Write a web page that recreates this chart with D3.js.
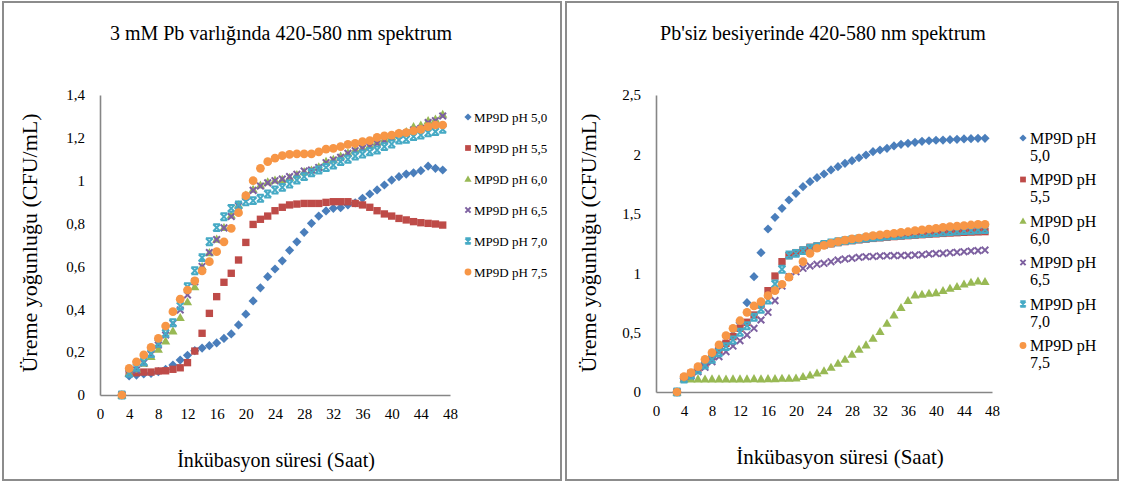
<!DOCTYPE html>
<html>
<head>
<meta charset="utf-8">
<script src="https://cdn.jsdelivr.net/npm/d3@7"></script>
<style>
  body { margin: 0; background: #fff; }
  svg { display: block; }
  text { font-family: "Liberation Serif", "Times New Roman", serif; fill: #000; }
</style>
</head>
<body>
<svg id="chart" width="1121" height="483"></svg>
<script>
// Sampling times (hours); the first reading at 3 h is the blank (0)
const hours = [3, 4, 5, 6, 7, 8, 9, 10, 11, 12, 13, 14, 15, 16, 17, 18, 19, 20, 21, 22, 23, 24, 25,
  26, 27, 28, 29, 30, 31, 32, 33, 34, 35, 36, 37, 38, 39, 40, 41, 42, 43, 44, 45, 46, 47];

const seriesNames = ["MP9D pH 5,0", "MP9D pH 5,5", "MP9D pH 6,0", "MP9D pH 6,5", "MP9D pH 7,0", "MP9D pH 7,5"];

// With 3 mM Pb
const pbPH50 = [0, 0.089, 0.093, 0.098, 0.101, 0.109, 0.12, 0.14, 0.163, 0.185, 0.207, 0.219, 0.23, 0.243, 0.264, 0.285,
  0.327, 0.377, 0.439, 0.5, 0.552, 0.588, 0.626, 0.675, 0.715, 0.759, 0.801, 0.835, 0.859, 0.871, 0.874, 0.887, 0.897,
  0.918, 0.938, 0.957, 0.98, 1.003, 1.019, 1.031, 1.037, 1.047, 1.068, 1.058, 1.05];
const pbPH55 = [0, 0.101, 0.104, 0.107, 0.107, 0.112, 0.113, 0.12, 0.127, 0.151, 0.205, 0.288, 0.381, 0.459, 0.526, 0.568,
  0.63, 0.712, 0.796, 0.82, 0.835, 0.86, 0.876, 0.887, 0.891, 0.894, 0.894, 0.894, 0.899, 0.902, 0.902, 0.902, 0.894,
  0.887, 0.876, 0.86, 0.845, 0.835, 0.824, 0.817, 0.809, 0.804, 0.801, 0.798, 0.793];
const pbPH60 = [0, 0.101, 0.12, 0.148, 0.179, 0.213, 0.252, 0.299, 0.361, 0.435, 0.505, 0.599, 0.664, 0.727, 0.781, 0.84,
  0.887, 0.933, 0.96, 0.98, 0.995, 1.003, 1.006, 1.015, 1.028, 1.042, 1.05, 1.065, 1.09, 1.1, 1.115, 1.13, 1.145,
  1.155, 1.165, 1.18, 1.195, 1.205, 1.222, 1.229, 1.252, 1.26, 1.28, 1.287, 1.31];
const pbPH65 = [0, 0.1, 0.116, 0.15, 0.19, 0.233, 0.28, 0.334, 0.397, 0.467, 0.529, 0.6, 0.665, 0.725, 0.78, 0.833,
  0.882, 0.925, 0.955, 0.975, 0.99, 1.0, 1.008, 1.019, 1.03, 1.045, 1.05, 1.062, 1.084, 1.097, 1.109, 1.128, 1.14,
  1.151, 1.159, 1.174, 1.187, 1.198, 1.213, 1.221, 1.237, 1.244, 1.271, 1.28, 1.302];
const pbPH70 = [0, 0.101, 0.129, 0.155, 0.194, 0.241, 0.288, 0.337, 0.415, 0.505, 0.58, 0.641, 0.715, 0.781, 0.832, 0.871,
  0.887, 0.902, 0.907, 0.918, 0.938, 0.957, 0.969, 0.985, 1.003, 1.019, 1.037, 1.05, 1.062, 1.073, 1.089, 1.1, 1.115,
  1.125, 1.135, 1.143, 1.159, 1.171, 1.19, 1.193, 1.206, 1.213, 1.224, 1.229, 1.24];
const pbPH75 = [0, 0.124, 0.155, 0.187, 0.222, 0.264, 0.322, 0.389, 0.447, 0.49, 0.533, 0.579, 0.622, 0.669, 0.715, 0.778,
  0.851, 0.93, 1.0, 1.058, 1.089, 1.105, 1.117, 1.123, 1.125, 1.125, 1.125, 1.135, 1.147, 1.151, 1.159, 1.17, 1.174,
  1.182, 1.187, 1.202, 1.209, 1.213, 1.221, 1.224, 1.233, 1.24, 1.252, 1.26, 1.26];

// Without Pb
const noPbPH50 = [0, 0.115, 0.157, 0.2, 0.247, 0.297, 0.368, 0.418, 0.48, 0.583, 0.752, 0.971, 1.173, 1.372, 1.47, 1.546,
  1.616, 1.672, 1.728, 1.77, 1.804, 1.835, 1.869, 1.897, 1.925, 1.947, 1.972, 1.995, 2.023, 2.037, 2.051, 2.071, 2.085,
  2.093, 2.102, 2.11, 2.115, 2.119, 2.121, 2.124, 2.127, 2.13, 2.132, 2.135, 2.135];
const noPbPH55 = [0, 0.12, 0.157, 0.2, 0.241, 0.297, 0.354, 0.41, 0.466, 0.536, 0.587, 0.648, 0.732, 0.853, 0.976, 1.097,
  1.148, 1.173, 1.195, 1.218, 1.229, 1.237, 1.248, 1.258, 1.266, 1.274, 1.281, 1.287, 1.293, 1.298, 1.303, 1.308, 1.312,
  1.316, 1.32, 1.324, 1.328, 1.331, 1.335, 1.338, 1.341, 1.344, 1.346, 1.348, 1.35];
const noPbPH60 = [0, 0.11, 0.108, 0.11, 0.108, 0.11, 0.11, 0.108, 0.11, 0.11, 0.11, 0.112, 0.11, 0.112, 0.112, 0.115,
  0.115, 0.118, 0.13, 0.143, 0.16, 0.178, 0.208, 0.241, 0.275, 0.317, 0.359, 0.396, 0.452, 0.508, 0.578, 0.648, 0.71,
  0.769, 0.817, 0.822, 0.83, 0.836, 0.853, 0.873, 0.887, 0.909, 0.923, 0.934, 0.93];
const noPbPH65 = [0, 0.11, 0.135, 0.171, 0.208, 0.255, 0.297, 0.339, 0.387, 0.432, 0.48, 0.536, 0.606, 0.671, 0.769, 0.892,
  0.971, 1.013, 1.041, 1.061, 1.075, 1.083, 1.097, 1.111, 1.12, 1.125, 1.134, 1.139, 1.141, 1.145, 1.146, 1.148, 1.149,
  1.15, 1.153, 1.156, 1.162, 1.165, 1.167, 1.173, 1.176, 1.181, 1.187, 1.19, 1.195];
const noPbPH70 = [0, 0.11, 0.143, 0.185, 0.227, 0.275, 0.331, 0.382, 0.438, 0.503, 0.558, 0.629, 0.696, 0.774, 0.909, 1.033,
  1.153, 1.167, 1.19, 1.21, 1.223, 1.243, 1.255, 1.265, 1.274, 1.282, 1.289, 1.296, 1.302, 1.307, 1.312, 1.317, 1.322,
  1.326, 1.33, 1.334, 1.338, 1.342, 1.346, 1.35, 1.354, 1.358, 1.362, 1.365, 1.368];
const noPbPH75 = [0, 0.129, 0.163, 0.213, 0.275, 0.331, 0.396, 0.474, 0.536, 0.6, 0.671, 0.724, 0.76, 0.811, 0.853, 0.907,
  0.966, 1.027, 1.097, 1.167, 1.21, 1.234, 1.251, 1.265, 1.279, 1.288, 1.296, 1.307, 1.316, 1.322, 1.33, 1.335, 1.343,
  1.349, 1.358, 1.364, 1.372, 1.378, 1.386, 1.392, 1.397, 1.4, 1.406, 1.411, 1.411];

// Axis ticks
const xTicks = [0, 4, 8, 12, 16, 20, 24, 28, 32, 36, 40, 44, 48];
const leftYTicks = [0, 0.2, 0.4, 0.6, 0.8, 1, 1.2, 1.4];
const rightYTicks = [0, 0.5, 1, 1.5, 2, 2.5];

const colors = ["#4A7EBB", "#BE4B48", "#98B954", "#7D60A0", "#46AAC5", "#F79646"];
const shapes = ["diamond", "square", "triangle", "cross", "star", "circle"];

const FONT = '"Liberation Serif","Times New Roman",serif';
const svg = d3.select("#chart");
const commaFmt = v => String(v).replace(".", ",");

function drawMarker(g, shape, color, s) {
  if (shape === "circle") {
    g.append("circle").attr("r", s * 0.95).attr("fill", color);
  } else if (shape === "diamond") {
    g.append("path").attr("d", `M0,${-s}L${s},0L0,${s}L${-s},0Z`).attr("fill", color);
  } else if (shape === "square") {
    const a = s * 0.8;
    g.append("path").attr("d", `M${-a},${-a}H${a}V${a}H${-a}Z`).attr("fill", color);
  } else if (shape === "triangle") {
    g.append("path").attr("d", `M0,${-s}L${s},${s * 0.75}L${-s},${s * 0.75}Z`).attr("fill", color);
  } else if (shape === "cross") {
    const a = s * 0.72;
    g.append("path").attr("d", `M${-a},${-a}L${a},${a}M${a},${-a}L${-a},${a}`)
      .attr("stroke", color).attr("stroke-width", 2).attr("fill", "none");
  } else if (shape === "star") {
    const a = s * 0.75;
    g.append("path").attr("d", `M${-a},${-a}L${a},${a}M${a},${-a}L${-a},${a}M${-a},${-a}H${a}M${-a},${a}H${a}`)
      .attr("stroke", color).attr("stroke-width", 2).attr("fill", "none");
  }
}

function panel(cfg) {
  const root = svg.append("g");
  root.append("rect")
    .attr("x", cfg.frame[0]).attr("y", cfg.frame[1])
    .attr("width", cfg.frame[2]).attr("height", cfg.frame[3])
    .attr("fill", "#fff").attr("stroke", "#8c8c8c").attr("stroke-width", 2);

  const x = d3.scaleLinear().domain([0, 48]).range(cfg.xRange);
  const y = d3.scaleLinear().domain(cfg.yDomain).range(cfg.yRange);

  // Axes: plain grey lines without tick marks
  const xAxis = root.append("g").attr("transform", `translate(0,${cfg.yRange[0]})`)
    .call(d3.axisBottom(x).tickValues(xTicks).tickSize(0).tickPadding(10).tickFormat(d => d));
  const yAxis = root.append("g").attr("transform", `translate(${cfg.xRange[0]},0)`)
    .call(d3.axisLeft(y).tickValues(cfg.yTicks).tickSize(0).tickPadding(15).tickFormat(commaFmt));
  [xAxis, yAxis].forEach(a => {
    a.attr("font-family", FONT);
    a.select(".domain").attr("stroke", "#868686").attr("stroke-width", 1.6);
    a.selectAll("text").style("font-family", FONT).style("font-size", "15px").attr("fill", "#000");
  });
  xAxis.selectAll("text").attr("dy", "0.95em");

  // Series, drawn in order so later series sit on top
  cfg.series.forEach((vals, i) => {
    const sg = root.append("g");
    vals.forEach((v, j) => {
      const m = sg.append("g").attr("transform", `translate(${x(hours[j])},${y(v)})`);
      drawMarker(m, shapes[i], colors[i], 4.6);
    });
  });

  // Titles
  root.append("text").attr("x", cfg.titleX).attr("y", 40).attr("text-anchor", "middle")
    .style("font-size", "20px").text(cfg.title);
  root.append("text").attr("x", cfg.xTitleX).attr("y", cfg.xTitleY).attr("text-anchor", "middle")
    .style("font-size", cfg.xTitleSize).text("İnkübasyon süresi (Saat)");
  root.append("text").attr("transform", `translate(${cfg.yTitleX},243) rotate(-90)`)
    .attr("text-anchor", "middle").style("font-size", "22px").text("Üreme yoğunluğu (CFU/mL)");

  // Legend
  const lg = root.append("g");
  seriesNames.forEach((name, i) => {
    const cy = cfg.legend.y0 + i * cfg.legend.step;
    const m = lg.append("g").attr("transform", `translate(${cfg.legend.mx},${cy})`);
    drawMarker(m, shapes[i], colors[i], 3.6);
    const t = lg.append("text").attr("x", cfg.legend.tx).attr("y", cy)
      .attr("dy", "0.35em").style("font-size", cfg.legend.size);
    if (cfg.legend.wrap) {
      const parts = name.split(" ");
      t.append("tspan").attr("x", cfg.legend.tx).text(parts.slice(0, 2).join(" "));
      t.append("tspan").attr("x", cfg.legend.tx).attr("dy", "1.08em").text(parts[2]);
    } else {
      t.text(name);
    }
  });
}

panel({
  frame: [3, 2, 558, 478],
  xRange: [100, 450], yDomain: [0, 1.4], yRange: [395, 95], yTicks: leftYTicks,
  series: [pbPH50, pbPH55, pbPH60, pbPH65, pbPH70, pbPH75],
  title: "3 mM Pb varlığında 420-580 nm spektrum", titleX: 281,
  xTitleX: 276, xTitleY: 467, xTitleSize: "20px", yTitleX: 37,
  legend: { mx: 468, tx: 474, y0: 117, step: 31, size: "13px", wrap: false }
});

panel({
  frame: [566, 2, 552, 478],
  xRange: [656, 992], yDomain: [0, 2.5], yRange: [392, 95], yTicks: rightYTicks,
  series: [noPbPH50, noPbPH55, noPbPH60, noPbPH65, noPbPH70, noPbPH75],
  title: "Pb'siz besiyerinde 420-580 nm spektrum", titleX: 823,
  xTitleX: 840, xTitleY: 464, xTitleSize: "21px", yTitleX: 596,
  legend: { mx: 1023, tx: 1030, y0: 138, step: 41.5, size: "16px", wrap: true }
});
</script>
</body>
</html>
